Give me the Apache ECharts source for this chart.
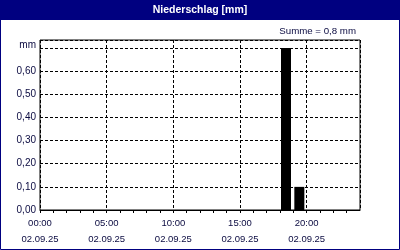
<!DOCTYPE html>
<html>
<head>
<meta charset="utf-8">
<script src="https://cdn.jsdelivr.net/npm/echarts@6/dist/echarts.min.js"></script>
<style>
html,body{margin:0;padding:0;background:#fff;}
#c{width:400px;height:250px;}
</style>
</head>
<body>
<div id="c"></div>
<script>
// Data
const barHours = [18.45, 19.45];          // bar centre, hours of the day
const precipMm = [0.70, 0.10];            // precipitation, mm
const dateLabel = '02.09.25';
const titleText = 'Niederschlag [mm]';
const sumText = 'Summe = 0,8 mm';
const yUnit = 'mm';

const NAVY = '#000080';
const TXT = '#0a0a40';
const FONT = '"Liberation Sans", Arial, sans-serif';

const chart = echarts.init(document.getElementById('c'), null, {renderer: 'canvas'});
const pad2 = n => (n < 10 ? '0' : '') + n;

chart.setOption({
  animation: false,
  backgroundColor: '#fff',
  graphic: [
    {type: 'rect', z: 0, shape: {x: 0, y: 0, width: 400, height: 20}, style: {fill: NAVY}},
    {type: 'rect', z: 0, shape: {x: 0.5, y: 0.5, width: 399, height: 249}, style: {fill: 'none', stroke: NAVY, lineWidth: 1}}
  ],
  title: [
    {text: titleText, left: 'center', top: 4, padding: 0,
     textStyle: {color: '#fff', fontFamily: FONT, fontSize: 10.5, fontWeight: 'bold', lineHeight: 12}},
    {text: sumText, right: 44, top: 26, padding: 0,
     textStyle: {color: TXT, fontFamily: FONT, fontSize: 9.7, fontWeight: 'normal', lineHeight: 11}}
  ],
  grid: {left: 40, right: 40, top: 40, bottom: 40, show: true, borderColor: '#000', borderWidth: 1, backgroundColor: 'transparent'},
  xAxis: [
    {
      type: 'value', min: 0, max: 24, interval: 1, position: 'bottom',
      axisLine: {show: true, lineStyle: {color: '#000', width: 1}},
      axisTick: {show: true, length: 3, inside: false, lineStyle: {color: '#000'}},
      splitLine: {show: false},
      axisLabel: {
        margin: 5, color: TXT, fontFamily: FONT, fontSize: 9.5, lineHeight: 16,
        showMaxLabel: false,
        formatter: v => (v % 5 === 0 && v < 24) ? pad2(v) + ':00\n' + dateLabel : ''
      }
    },
    {
      type: 'value', min: 0, max: 24, interval: 5, position: 'bottom',
      axisLine: {show: false}, axisTick: {show: false}, axisLabel: {show: false},
      splitLine: {show: true, lineStyle: {color: '#000', type: [3, 2], width: 1}}
    }
  ],
  yAxis: {
    type: 'value', min: 0, max: 0.735, interval: 0.1,
    axisLine: {show: false}, axisTick: {show: false},
    splitLine: {show: true, lineStyle: {color: '#000', type: [3, 2], width: 1}},
    axisLabel: {
      margin: 4, color: TXT, fontFamily: FONT, fontSize: 10,
      showMaxLabel: false,
      formatter: v => {
        if (v > 0.72) return '';
        if (Math.abs(v - 0.7) < 1e-6) return '{u|' + yUnit + '}';
        return v.toFixed(2).replace('.', ',');
      },
      rich: {u: {color: TXT, fontFamily: FONT, fontSize: 10, padding: [0, 0, 6, 0]}}
    }
  },
  series: [{
    type: 'bar', xAxisIndex: 0, yAxisIndex: 0,
    barWidth: 10,
    itemStyle: {color: '#000'},
    data: barHours.map((h, i) => [h, precipMm[i]])
  }]
});
</script>
</body>
</html>
